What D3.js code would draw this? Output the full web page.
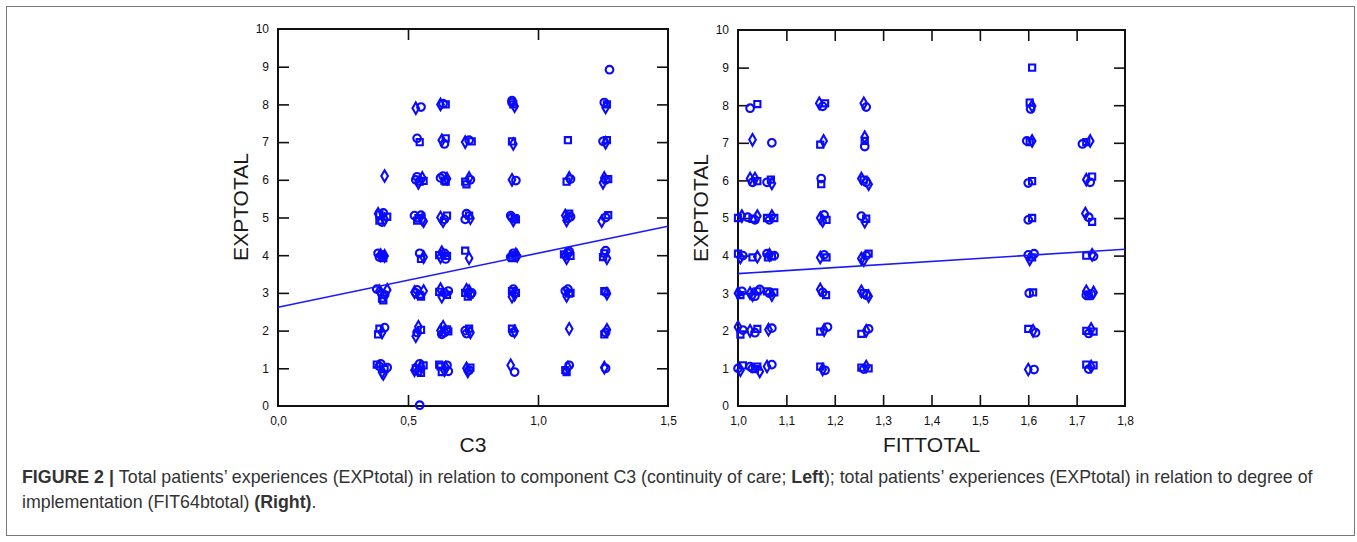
<!DOCTYPE html>
<html>
<head>
<meta charset="utf-8">
<script src="https://cdn.jsdelivr.net/npm/d3@7"></script>
<style>
    body { margin: 0; background: #fff; }
    svg { display: block; font-family: "Liberation Sans", Arial, sans-serif; }
    .tick text { font-size: 12px; fill: #111; }
    .tick line { stroke: #111; stroke-width: 1.6px; }
    .title { font-size: 21px; fill: #1a1a1a; }
    .caption { font-size: 17.8px; fill: #333; }
</style>
</head>
<body>
<svg id="chart" width="1357" height="542"></svg>
<script>
// EXPTOTAL vs C3 (left panel), jittered points
const leftPoints = [
    // C3 ~ 0.40
    [0.39,1.05],[0.41,0.98],[0.40,0.90],[0.42,1.02],[0.38,1.10],[0.405,0.85],[0.395,1.12],
    [0.39,2.05],[0.40,1.95],[0.41,2.08],[0.385,1.90],
    [0.39,3.05],[0.41,2.95],[0.40,2.85],[0.42,3.08],[0.38,3.10],[0.405,2.80],[0.395,3.00],
    [0.39,3.95],[0.40,4.02],[0.41,3.98],[0.385,4.05],[0.405,3.92],[0.395,4.00],[0.40,3.97],
    [0.39,5.08],[0.41,4.95],[0.40,4.88],[0.42,5.02],[0.385,5.10],[0.405,5.12],[0.39,4.92],
    [0.41,6.10],
    // C3 ~ 0.54
    [0.545,0.02],
    [0.53,1.00],[0.55,1.05],[0.54,0.92],[0.56,1.08],[0.525,0.95],[0.545,1.12],[0.55,0.88],
    [0.54,2.10],[0.535,1.95],[0.55,2.02],[0.53,1.85],
    [0.53,3.00],[0.545,2.95],[0.56,3.05],[0.535,3.08],[0.55,2.90],[0.525,3.02],
    [0.545,4.05],[0.55,3.90],[0.56,3.95],
    [0.525,5.05],[0.54,4.98],[0.555,4.95],[0.55,5.06],[0.535,4.92],[0.56,4.90],
    [0.53,6.00],[0.545,5.95],[0.555,6.05],[0.535,6.08],[0.56,5.97],[0.54,5.92],
    [0.535,7.10],[0.545,7.00],
    [0.53,7.90],[0.55,7.93],
    // C3 ~ 0.635
    [0.625,1.05],[0.64,0.95],[0.65,1.08],[0.63,0.90],[0.645,1.02],[0.655,0.92],[0.62,1.10],
    [0.625,2.00],[0.64,1.95],[0.65,2.03],[0.635,2.10],[0.63,1.90],[0.655,1.98],
    [0.625,3.10],[0.64,3.00],[0.65,2.95],[0.63,2.90],[0.655,3.05],[0.62,3.03],
    [0.625,3.95],[0.64,4.05],[0.65,3.98],[0.63,4.08],[0.645,3.90],[0.62,4.00],
    [0.625,5.00],[0.64,4.95],[0.65,5.05],[0.635,4.90],
    [0.625,6.05],[0.64,5.98],[0.65,6.03],[0.635,6.10],[0.645,5.95],
    [0.63,7.05],[0.64,6.95],[0.645,7.10],
    [0.625,8.00],[0.635,8.02],[0.645,8.00],
    // C3 ~ 0.73
    [0.725,1.00],[0.735,0.95],[0.74,1.02],[0.73,0.92],
    [0.72,2.00],[0.735,2.05],[0.74,1.95],[0.725,1.92],
    [0.72,3.00],[0.735,3.05],[0.74,2.95],[0.73,2.90],[0.725,3.08],[0.745,3.00],
    [0.72,4.12],[0.735,3.92],
    [0.72,4.95],[0.735,5.05],[0.74,4.98],[0.725,5.10],
    [0.72,5.95],[0.735,6.05],[0.74,6.00],[0.725,5.88],
    [0.72,7.00],[0.735,7.05],[0.745,7.02],
    // C3 ~ 0.905
    [0.895,1.08],[0.91,0.90],
    [0.90,2.05],[0.91,1.98],[0.905,1.95],
    [0.90,3.05],[0.91,2.95],[0.905,3.10],[0.915,3.00],[0.90,2.90],
    [0.895,3.95],[0.91,4.00],[0.92,3.98],[0.905,4.05],[0.90,3.92],[0.915,4.02],
    [0.895,5.05],[0.91,4.98],[0.905,4.92],[0.90,5.00],[0.915,4.95],
    [0.90,6.00],[0.915,5.98],
    [0.90,7.02],[0.905,6.95],
    [0.90,8.10],[0.905,8.00],[0.91,7.95],[0.90,8.05],
    // C3 ~ 1.115
    [1.105,0.95],[1.115,1.02],[1.12,1.08],[1.11,0.90],
    [1.12,2.05],
    [1.105,3.05],[1.12,2.98],[1.11,2.92],[1.115,3.10],[1.125,3.00],
    [1.105,4.00],[1.115,4.05],[1.125,3.98],[1.11,3.92],[1.12,4.10],[1.10,4.02],
    [1.105,5.05],[1.115,4.98],[1.12,5.10],[1.11,4.92],[1.125,5.02],
    [1.11,5.95],[1.12,6.05],[1.125,6.02],
    [1.115,7.05],
    // C3 ~ 1.26
    [1.255,1.02],[1.26,1.00],
    [1.255,1.90],[1.265,2.02],[1.26,1.95],
    [1.255,3.05],[1.265,2.98],[1.26,3.02],
    [1.255,4.05],[1.265,3.92],[1.26,4.12],[1.25,3.95],
    [1.245,4.90],[1.26,5.00],[1.27,5.06],
    [1.25,5.92],[1.26,6.00],[1.27,6.02],[1.255,6.05],
    [1.25,7.02],[1.265,7.05],[1.26,6.98],
    [1.255,8.05],[1.265,8.00],[1.26,7.92],
    [1.275,8.92]
];

// EXPTOTAL vs FITTOTAL (right panel)
const rightPoints = [
    // EXPTOTAL 1
    [1.00,1.00],[1.01,1.08],[1.005,0.95],
    [1.025,1.05],[1.035,0.98],[1.045,0.92],[1.03,1.00],[1.04,1.05],
    [1.06,1.05],[1.07,1.10],
    [1.17,1.05],[1.175,0.97],[1.18,0.95],
    [1.255,1.02],[1.265,1.05],[1.26,0.98],[1.27,1.00],
    [1.60,0.97],[1.612,0.97],
    [1.72,1.10],[1.73,1.05],[1.725,0.98],[1.735,1.08],
    // EXPTOTAL 2
    [1.00,2.10],[1.01,2.02],[1.005,1.90],
    [1.025,2.00],[1.035,1.95],[1.04,2.05],
    [1.063,2.03],[1.07,2.07],
    [1.17,1.98],[1.178,2.02],[1.185,2.10],
    [1.255,1.92],[1.265,2.00],[1.27,2.05],
    [1.60,2.05],[1.61,2.00],[1.615,1.95],
    [1.72,2.00],[1.73,2.05],[1.725,1.93],[1.735,1.98],
    // EXPTOTAL 3
    [1.00,3.00],[1.008,3.05],[1.005,2.95],
    [1.025,3.00],[1.035,2.92],[1.04,3.05],[1.03,2.95],[1.045,3.10],
    [1.06,3.05],[1.07,2.95],[1.065,3.00],[1.075,3.02],
    [1.17,3.10],[1.175,3.02],[1.182,2.95],
    [1.255,3.05],[1.265,2.95],[1.26,3.00],[1.27,2.92],
    [1.602,3.00],[1.61,3.02],
    [1.72,3.05],[1.73,2.98],[1.725,2.92],[1.735,3.02],[1.72,2.95],
    // EXPTOTAL 4
    [1.00,4.05],[1.005,3.95],[1.01,4.00],
    [1.03,3.95],[1.04,3.97],
    [1.06,4.05],[1.07,3.98],[1.065,4.02],[1.075,4.00],[1.062,3.95],
    [1.17,3.95],[1.178,4.02],[1.183,3.95],
    [1.255,3.92],[1.265,4.00],[1.27,4.05],[1.26,3.88],
    [1.60,4.02],[1.608,3.95],[1.603,3.90],[1.612,4.05],
    [1.72,4.00],[1.732,4.02],[1.735,3.98],
    // EXPTOTAL 5
    [1.00,5.00],[1.008,5.05],
    [1.02,5.02],[1.03,4.98],[1.04,5.05],[1.035,4.95],
    [1.06,5.00],[1.07,5.05],[1.065,4.95],[1.075,5.00],
    [1.17,5.00],[1.178,5.08],[1.183,4.95],[1.175,4.92],
    [1.255,5.05],[1.265,4.98],[1.262,4.90],
    [1.60,4.95],[1.608,5.00],
    [1.718,5.12],[1.725,5.02],[1.732,4.90],
    // EXPTOTAL 6
    [1.025,6.05],[1.03,5.95],[1.04,5.98],[1.035,6.05],
    [1.06,5.95],[1.068,6.02],[1.07,5.92],
    [1.172,6.05],[1.172,5.90],
    [1.255,6.05],[1.265,5.95],[1.26,6.02],[1.27,5.90],
    [1.60,5.93],[1.608,5.98],
    [1.72,6.02],[1.728,5.95],[1.732,6.10],
    // EXPTOTAL 7
    [1.03,7.08],[1.07,7.00],
    [1.17,6.95],[1.177,7.05],
    [1.262,6.90],[1.262,7.05],[1.262,7.15],
    [1.597,7.05],[1.603,7.02],[1.608,7.05],
    [1.712,6.97],[1.72,7.02],[1.728,7.05],
    // EXPTOTAL 8 and 9
    [1.025,7.92],[1.04,8.03],
    [1.168,8.05],[1.175,7.97],[1.18,8.05],
    [1.26,8.05],[1.265,7.95],
    [1.603,8.07],[1.608,7.98],[1.605,7.90],
    [1.608,9.00]
];

// fitted regression lines (end points)
const leftFit = [[0.0, 2.62], [1.5, 4.77]];
const rightFit = [[1.0, 3.52], [1.8, 4.17]];

const leftXTicks = [0.0, 0.5, 1.0, 1.5];
const rightXTicks = [1.0, 1.1, 1.2, 1.3, 1.4, 1.5, 1.6, 1.7, 1.8];
const yTicks = [0, 1, 2, 3, 4, 5, 6, 7, 8, 9, 10];

const commaLocale = d3.formatLocale({ decimal: ",", thousands: ".", grouping: [3], currency: ["", ""] });
const fmt1 = commaLocale.format(".1f");

const svg = d3.select("#chart");

// figure frame
svg.append("rect")
    .attr("x", 6.5).attr("y", 6.5)
    .attr("width", 1348).attr("height", 529)
    .attr("fill", "none")
    .attr("stroke", "#777")
    .attr("stroke-width", 1);

function drawPanel(opt) {
    const { left, right, top, bottom } = opt.box;
    const x = d3.scaleLinear().domain(opt.xDomain).range([left, right]);
    const y = d3.scaleLinear().domain([0, 10]).range([bottom, top]);
    const g = svg.append("g");
    const tick = 11;

    // axes, ticks pointing inwards on all four sides
    g.append("g").attr("transform", `translate(${left},0)`)
        .call(d3.axisLeft(y).tickValues(yTicks).tickSize(-tick).tickSizeOuter(0).tickPadding(9).tickFormat(d3.format("d")));
    g.append("g").attr("transform", `translate(${right},0)`)
        .call(d3.axisRight(y).tickValues(yTicks.slice(1, -1)).tickSize(-tick).tickSizeOuter(0).tickFormat(""));
    g.append("g").attr("transform", `translate(0,${bottom})`)
        .call(d3.axisBottom(x).tickValues(opt.xTicks).tickSize(-tick).tickSizeOuter(0).tickPadding(10).tickFormat(fmt1));
    g.append("g").attr("transform", `translate(0,${top})`)
        .call(d3.axisTop(x).tickValues(opt.xTicks.slice(1, -1)).tickSize(-tick).tickSizeOuter(0).tickFormat(""));
    g.selectAll(".domain").remove();
    // no tick marks in the corners (labels stay)
    g.selectAll(".tick").filter(d => d === opt.xDomain[0] || d === opt.xDomain[1]).select("line").remove();
    g.selectAll(".tick").filter(d => d === 0 || d === 10).select("line").remove();

    g.append("rect")
        .attr("x", left).attr("y", top)
        .attr("width", right - left).attr("height", bottom - top)
        .attr("fill", "none").attr("stroke", "#111").attr("stroke-width", 2);

    // titles
    g.append("text").attr("class", "title")
        .attr("x", (left + right) / 2).attr("y", bottom + 46)
        .attr("text-anchor", "middle").text(opt.xTitle);
    g.append("text").attr("class", "title")
        .attr("transform", `translate(${left - 30},${top + 178}) rotate(-90)`)
        .attr("text-anchor", "middle").text("EXPTOTAL");

    // points
    const shapes = [d3.symbolCircle, d3.symbolSquare, d3.symbolDiamond];
    g.append("g").selectAll("path")
        .data(opt.points)
        .join("path")
        .attr("transform", d => `translate(${x(d[0])},${y(d[1])})`)
        .attr("d", (d, i) => d3.symbol().type(shapes[i % 3]).size(i % 3 === 0 ? 46 : 38)())
        .attr("fill", "none")
        .attr("stroke", "#0a0aff")
        .attr("stroke-width", 2.1);

    // regression line
    g.append("path")
        .datum(opt.fit)
        .attr("fill", "none")
        .attr("stroke", "#1a1aff")
        .attr("stroke-width", 1.6)
        .attr("d", d3.line().x(d => x(d[0])).y(d => y(d[1])));
}

drawPanel({
    box: { left: 278, right: 668, top: 29, bottom: 406 },
    xDomain: [0, 1.5], xTicks: leftXTicks,
    points: leftPoints, fit: leftFit, xTitle: "C3"
});
drawPanel({
    box: { left: 738, right: 1125, top: 30, bottom: 406 },
    xDomain: [1.0, 1.8], xTicks: rightXTicks,
    points: rightPoints, fit: rightFit, xTitle: "FITTOTAL"
});

// caption
const cap = svg.append("text").attr("class", "caption").attr("x", 22).attr("y", 483);
cap.append("tspan").attr("font-weight", "bold").text("FIGURE 2 | ");
cap.append("tspan").text("Total patients\u2019 experiences (EXPtotal) in relation to component C3 (continuity of care; ");
cap.append("tspan").attr("font-weight", "bold").text("Left");
cap.append("tspan").text("); total patients\u2019 experiences (EXPtotal) in relation to degree of");
const cap2 = svg.append("text").attr("class", "caption").attr("x", 22).attr("y", 508);
cap2.append("tspan").text("implementation (FIT64btotal) ");
cap2.append("tspan").attr("font-weight", "bold").text("(Right)");
cap2.append("tspan").text(".");
</script>
</body>
</html>
